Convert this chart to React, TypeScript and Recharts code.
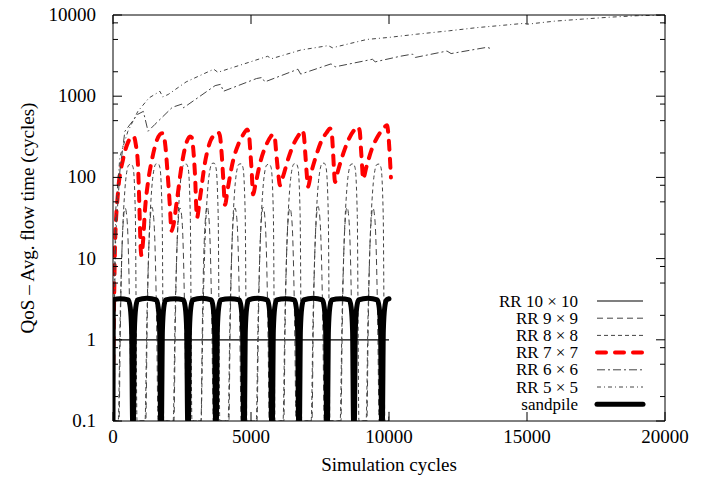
import { Line, LineChart, XAxis, YAxis } from 'recharts';

type Pt = [number, number];

const xTicks = [0, 5000, 10000, 15000, 20000];
const yMajor = [0.1, 1, 10, 100, 1000, 10000];
const yMinor = [0.2, 0.5, 0.8, 2, 5, 8, 20, 50, 80, 200, 500, 800, 2000, 5000, 8000];
const yTicks = [...yMajor, ...yMinor].sort((a, b) => a - b);

// RR 10x10 sits flat at 1 cycle
const rr10: Pt[] = [[0, 1], [10000, 1]];

// RR 9x9: narrow arches up to ~40
const rr9: Pt[] = [
  [0, 0.1],
  [220, 0.1], [260, 1], [300, 6], [370, 28], [440, 42], [510, 30], [580, 6], [620, 1], [660, 0.1],
  [1190, 0.1], [1230, 1], [1270, 6], [1340, 28], [1410, 43], [1480, 30], [1550, 6], [1590, 1], [1630, 0.1],
  [2210, 0.1], [2250, 1], [2290, 6], [2360, 28], [2430, 42], [2500, 30], [2570, 6], [2610, 1], [2650, 0.1],
  [3190, 0.1], [3230, 1], [3270, 6], [3340, 28], [3410, 44], [3480, 30], [3550, 6], [3590, 1], [3630, 0.1],
  [4200, 0.1], [4240, 1], [4280, 6], [4350, 28], [4420, 42], [4490, 30], [4560, 6], [4600, 1], [4640, 0.1],
  [5220, 0.1], [5260, 1], [5300, 6], [5370, 28], [5440, 43], [5510, 30], [5580, 6], [5620, 1], [5660, 0.1],
  [6190, 0.1], [6230, 1], [6270, 6], [6340, 28], [6410, 42], [6480, 30], [6550, 6], [6590, 1], [6630, 0.1],
  [7210, 0.1], [7250, 1], [7290, 6], [7360, 28], [7430, 44], [7500, 30], [7570, 6], [7610, 1], [7650, 0.1],
  [8260, 0.1], [8300, 1], [8340, 6], [8410, 28], [8480, 43], [8550, 30], [8620, 6], [8660, 1], [8700, 0.1],
  [9200, 0.1], [9240, 1], [9280, 6], [9350, 28], [9420, 42], [9490, 30], [9560, 6], [9600, 1], [9640, 0.1],
  [9980, 0.1], [10000, 0.13],
];

// RR 8x8: rounded arches up to ~145
const rr8: Pt[] = [
  [0, 0.1],
  [190, 0.1], [260, 2], [340, 18], [430, 70], [520, 128], [580, 143], [660, 145], [730, 132], [810, 35], [870, 0.1],
  [1160, 0.1], [1230, 2], [1310, 18], [1400, 70], [1490, 128], [1550, 146], [1630, 148], [1700, 132], [1780, 35], [1840, 0.1],
  [2180, 0.1], [2250, 2], [2330, 18], [2420, 70], [2510, 128], [2570, 144], [2650, 146], [2720, 132], [2800, 35], [2860, 0.1],
  [3190, 0.1], [3260, 2], [3340, 18], [3430, 70], [3520, 128], [3580, 148], [3660, 150], [3730, 132], [3810, 35], [3870, 0.1],
  [4170, 0.1], [4240, 2], [4320, 18], [4410, 70], [4500, 128], [4560, 145], [4640, 147], [4710, 132], [4790, 35], [4850, 0.1],
  [5190, 0.1], [5260, 2], [5340, 18], [5430, 70], [5520, 128], [5580, 143], [5660, 145], [5730, 132], [5810, 35], [5870, 0.1],
  [6160, 0.1], [6230, 2], [6310, 18], [6400, 70], [6490, 128], [6550, 146], [6630, 148], [6700, 132], [6780, 35], [6840, 0.1],
  [7180, 0.1], [7250, 2], [7330, 18], [7420, 70], [7510, 128], [7570, 148], [7650, 150], [7720, 132], [7800, 35], [7860, 0.1],
  [8230, 0.1], [8300, 2], [8380, 18], [8470, 70], [8560, 128], [8620, 145], [8700, 147], [8770, 132], [8850, 35], [8910, 0.1],
  [9170, 0.1], [9240, 2], [9320, 18], [9410, 70], [9500, 128], [9560, 144], [9640, 146], [9710, 132], [9790, 35], [9850, 0.1],
  [10000, 0.1],
];

// RR 7x7: saw-tooth between ~10..100 and ~350
const rr7: Pt[] = [
  [0, 0.3], [40, 3], [72, 14], [181, 65], [362, 166], [543, 270], [688, 320], [760, 315], [830, 250],
  [906, 140], [960, 40], [1000, 14], [1030, 11], [1087, 16], [1160, 40], [1268, 87], [1413, 166],
  [1594, 290], [1780, 350], [1830, 340], [1900, 240], [1980, 110], [2060, 45], [2120, 22], [2180, 25],
  [2319, 53], [2500, 150], [2681, 280], [2790, 320], [2850, 310], [2910, 220], [2970, 110], [3043, 32],
  [3150, 55], [3330, 150], [3510, 270], [3700, 340], [3804, 360], [3870, 330], [3940, 190], [4000, 90], [4058, 46],
  [4150, 70], [4350, 160], [4550, 260], [4750, 350], [4855, 390], [4920, 350], [4980, 200], [5030, 110], [5072, 62],
  [5170, 85], [5350, 160], [5550, 250], [5720, 320], [5797, 340], [5860, 310], [5920, 190], [5990, 110], [6050, 80],
  [6150, 100], [6350, 170], [6550, 260], [6750, 340], [6847, 380], [6910, 340], [6970, 190], [7020, 110], [7065, 77],
  [7170, 110], [7350, 180], [7550, 280], [7750, 360], [7862, 400], [7925, 350], [7975, 200], [8010, 120], [8043, 88],
  [8150, 120], [8350, 200], [8550, 300], [8760, 390], [8876, 420], [8940, 370], [8990, 210], [9030, 130], [9058, 95],
  [9170, 130], [9370, 220], [9570, 310], [9800, 400], [9927, 440], [9980, 330], [10030, 180], [10070, 100],
];

const rr6: Pt[] = [
  [0, 0.3], [100, 20], [250, 120], [430, 370], [900, 600], [1100, 650], [1270, 370], [1520, 450],
  [2150, 730], [2500, 800], [2560, 720], [2700, 780], [3700, 1350], [3900, 1400], [4000, 1150],
  [5200, 1650], [5400, 1700], [5500, 1500], [6700, 2150], [6800, 1870], [7900, 2500], [8050, 2300],
  [9400, 2850], [9500, 2650], [10400, 3100], [10850, 3300], [10950, 3000], [12100, 3600], [12250, 3350],
  [13550, 4000], [13750, 3800],
];

const rr5: Pt[] = [
  [0, 0.5], [100, 40], [250, 180], [540, 370], [900, 650], [1300, 950], [1700, 1150], [1800, 980],
  [2000, 1050], [2650, 1500], [3650, 2150], [3800, 1970], [4750, 2500], [5600, 3100], [5750, 2900],
  [6800, 3700], [7800, 4200], [7950, 3950], [9200, 5000], [10000, 5300], [11000, 5800], [12200, 6400],
  [13200, 7000], [14000, 7400], [14900, 7900], [15000, 7700], [16000, 8400], [17000, 8900], [18000, 9400],
  [19000, 9800], [20000, 10000],
];

const sandpile: Pt[] = [
  [0, 0.1], [10, 3.1], [250, 3.2], [555, 3.1], [625, 2.5], [675, 1.3], [710, 0.1], [740, 0.1], [775, 1.3], [825, 2.5], [895, 3.1],
  [1230, 3.25], [1570, 3.1], [1640, 2.5], [1690, 1.3], [1725, 0.1], [1755, 0.1], [1790, 1.3], [1840, 2.5], [1910, 3.1],
  [2230, 3.2], [2550, 3.1], [2620, 2.5], [2670, 1.3], [2705, 0.1], [2735, 0.1], [2770, 1.3], [2820, 2.5], [2890, 3.1],
  [3220, 3.25], [3560, 3.1], [3630, 2.5], [3680, 1.3], [3715, 0.1], [3745, 0.1], [3780, 1.3], [3830, 2.5], [3900, 3.1],
  [4240, 3.2], [4575, 3.1], [4645, 2.5], [4695, 1.3], [4730, 0.1], [4760, 0.1], [4795, 1.3], [4845, 2.5], [4915, 3.1],
  [5250, 3.25], [5590, 3.1], [5660, 2.5], [5710, 1.3], [5745, 0.1], [5775, 0.1], [5810, 1.3], [5860, 2.5], [5930, 3.1],
  [6250, 3.2], [6570, 3.1], [6640, 2.5], [6690, 1.3], [6725, 0.1], [6755, 0.1], [6790, 1.3], [6840, 2.5], [6910, 3.1],
  [7250, 3.25], [7585, 3.1], [7655, 2.5], [7705, 1.3], [7740, 0.1], [7770, 0.1], [7805, 1.3], [7855, 2.5], [7925, 3.1],
  [8240, 3.2], [8560, 3.1], [8630, 2.5], [8680, 1.3], [8715, 0.1], [8745, 0.1], [8780, 1.3], [8830, 2.5], [8900, 3.1],
  [9240, 3.25], [9575, 3.1], [9645, 2.5], [9695, 1.3], [9730, 0.1], [9760, 0.1], [9795, 1.3], [9845, 2.5], [9915, 3.1],
  [10000, 3.2],
];

const GRAY = '#444';
const FONT = "'Liberation Serif', 'Times New Roman', serif";

const series = [
  { name: 'RR 10 × 10', data: rr10, color: '#000', width: 1.2, dash: undefined, cap: 'butt', curve: 'linear' },
  { name: 'RR 9 × 9', data: rr9, color: GRAY, width: 1, dash: '6 4', cap: 'butt', curve: 'monotone' },
  { name: 'RR 8 × 8', data: rr8, color: GRAY, width: 1, dash: '4 3', cap: 'butt', curve: 'monotone' },
  { name: 'RR 7 × 7', data: rr7, color: '#ff0000', width: 4, dash: '9 9', cap: 'round', curve: 'monotone' },
  { name: 'RR 6 × 6', data: rr6, color: GRAY, width: 1, dash: '8 3 2 3', cap: 'butt', curve: 'linear' },
  { name: 'RR 5 × 5', data: rr5, color: GRAY, width: 1, dash: '4 3 1 3', cap: 'butt', curve: 'linear' },
  { name: 'sandpile', data: sandpile, color: '#000', width: 5, dash: undefined, cap: 'round', curve: 'monotone' },
] as const;

const toRows = (pts: readonly Pt[]) => pts.map(([x, y]) => ({ x, y }));

const textStyle = { fontFamily: FONT };

function LeftTick({ x, y, payload }: any) {
  const major = yMajor.includes(payload.value);
  return (
    <g>
      <line x1={x} x2={x + (major ? 9 : 5)} y1={y} y2={y} stroke="#000" />
      {major && (
        <text x={x - 17} y={y + 6} textAnchor="end" fontSize={19} style={textStyle} fill="#000">
          {String(payload.value)}
        </text>
      )}
    </g>
  );
}

function RightTick({ x, y, payload }: any) {
  const major = yMajor.includes(payload.value);
  return <line x1={x - (major ? 9 : 5)} x2={x} y1={y} y2={y} stroke="#000" />;
}

function BottomTick({ x, y, payload }: any) {
  return (
    <g>
      <line x1={x} x2={x} y1={y} y2={y - 9} stroke="#000" />
      <text x={x} y={y + 22} textAnchor="middle" fontSize={19} style={textStyle} fill="#000">
        {String(payload.value)}
      </text>
    </g>
  );
}

function TopTick({ x, y }: any) {
  return <line x1={x} x2={x} y1={y} y2={y + 9} stroke="#000" />;
}

export default function App() {
  return (
    <div style={{ position: 'absolute', left: 0, top: 0, width: 708, height: 478, fontFamily: FONT }}>
      <LineChart width={708} height={478} margin={{ top: 14, right: 42, left: 0, bottom: 0 }}>
        <XAxis
          dataKey="x"
          type="number"
          domain={[0, 20000]}
          ticks={xTicks}
          interval={0}
          allowDataOverflow
          height={57}
          tickSize={0}
          tickMargin={0}
          tickLine={false}
          axisLine={{ stroke: '#000' }}
          tick={<BottomTick />}
          label={{ value: 'Simulation cycles', position: 'insideBottom', offset: 7, fontSize: 19, fill: '#000' }}
        />
        <XAxis
          xAxisId="top"
          orientation="top"
          dataKey="x"
          type="number"
          domain={[0, 20000]}
          ticks={xTicks}
          interval={0}
          allowDataOverflow
          height={1}
          tickSize={0}
          tickMargin={0}
          tickLine={false}
          axisLine={{ stroke: '#000' }}
          tick={<TopTick />}
        />
        <YAxis
          scale="log"
          domain={[0.1, 10000]}
          ticks={yTicks}
          interval={0}
          allowDataOverflow
          width={113}
          tickSize={0}
          tickMargin={0}
          tickLine={false}
          axisLine={{ stroke: '#000' }}
          tick={<LeftTick />}
          label={{
            value: 'QoS – Avg. flow time (cycles)',
            angle: -90,
            position: 'insideLeft',
            offset: 27,
            fontSize: 19,
            fill: '#000',
            style: { textAnchor: 'middle' },
          }}
        />
        <YAxis
          yAxisId="right"
          orientation="right"
          scale="log"
          domain={[0.1, 10000]}
          ticks={yTicks}
          interval={0}
          allowDataOverflow
          width={1}
          tickSize={0}
          tickMargin={0}
          tickLine={false}
          axisLine={{ stroke: '#000' }}
          tick={<RightTick />}
        />
        {series.map((s) => (
          <Line
            key={s.name}
            data={toRows(s.data)}
            dataKey="y"
            name={s.name}
            type={s.curve}
            stroke={s.color}
            strokeWidth={s.width}
            strokeDasharray={s.dash}
            strokeLinecap={s.cap}
            strokeLinejoin="round"
            dot={false}
            activeDot={false}
            isAnimationActive={false}
          />
        ))}
      </LineChart>
      <svg width={708} height={478} style={{ position: 'absolute', left: 0, top: 0, pointerEvents: 'none' }}>
        {series.map((s, i) => {
          const cy = 301 + i * 17.2;
          return (
            <g key={s.name}>
              <text x={578} y={cy + 5.5} textAnchor="end" fontSize={17} style={textStyle} fill="#000">
                {s.name}
              </text>
              <line
                x1={597}
                x2={643}
                y1={cy}
                y2={cy}
                stroke={s.color}
                strokeWidth={s.width}
                strokeDasharray={s.dash}
                strokeLinecap={s.cap}
              />
            </g>
          );
        })}
      </svg>
    </div>
  );
}
